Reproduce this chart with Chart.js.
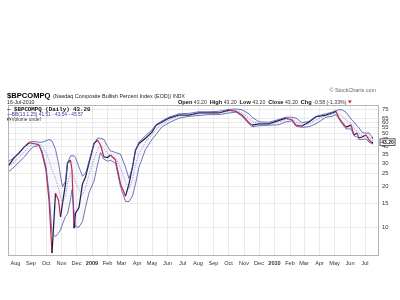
<!DOCTYPE html>
<html><head><meta charset="utf-8">
<script src="https://cdn.jsdelivr.net/npm/chart.js@4.4.0/dist/chart.umd.min.js"></script>
<style>html,body{margin:0;padding:0;background:#fff;}canvas{display:block;}</style>
</head><body>
<canvas id="c" width="400" height="300"></canvas>
<script>
// ---- data ----
const startDate = '2008-07-17';           // day 0 of the x axis
const days = [2,12,22,32,42,52,62,68,76,82,88,95,101,105,109,115,119,125,128,132,135,142,149,155,162,172,179,185,192,199,205,215,225,235,242,249,255,262,275,288,296,308,322,342,362,382,402,422,442,456,468,482,488,502,522,542,556,568,576,588,602,616,636,648,656,662,668,676,686,692,698,702,708,716,722,728,729];
const closeVals = [29,32.8,35.6,39.5,42.4,42,41,35.6,26.6,15.9,6.4,17.9,15.9,11.9,15,21,30,31.6,26.6,9.8,12.7,14,21,23.6,30,42,44.6,40.9,33.3,33,34.5,31.6,21,17,21,28,37.5,42,46,51,57.6,60.7,65,68.5,68.5,71,71,71,74.5,73,68.5,60,57.6,58.8,58.8,62.5,65,63,57.6,56.7,60.7,66.5,68.5,71,73,65,60.7,55.7,57.6,48.6,50.3,46.2,47,48.6,44.6,42.4,43.2];
const upperBand = [31,33,36,39.5,43,43.5,43,43,44,45,44,38,30,24,20,22,30,34,34,34,33,28,24,25,31,42,46,46,45,40,37,36,35,28,23,28,37.5,43,48,53,58,62,66,70,70.5,72.5,72.5,73,75.5,76,75,70,66,61,60.5,63.5,66,66,65,60,61.5,67,70,72,74,75,75,72,64,61,57,55,51,50,50.5,47,45.57];
const midBand = [28.5,30.5,33.2,36.2,40,41.8,41.8,40,36,31.5,26.5,23.2,19.5,16.8,15.2,17,21.2,25,26.5,23.5,21.5,19,17.5,19.5,24.5,32,37.5,41,38.5,35.5,34.2,33,27.5,21.8,19.2,22.5,29.2,35.5,43,49,53.5,59,63,67.5,68.8,70.2,70.8,71,73.2,74,71,64.5,61,59,59,60.8,63.5,64,60.8,57.8,58.8,63,68,69.5,71.5,69.5,67,63,59,54.5,52,50,48,47.8,46.8,44.5,43.54];
const lowerBand = [26,28,30.5,33,37,40,40.5,37,28,18,9,8.5,9,9.5,10.5,12,12.5,16,19,13,10,10,11,14,18,22,29,36,32,31,31.5,30,20,15.5,15.5,17,21,28,38,45,49,56,60,65,67,68,69,69,71,72,67,59,56,57,57.5,58,61,62,56.5,55.5,56,59,66,67,69,64,59,54,54,48,47,45,45,45.5,43,42,41.51];
const yTickValues = [10,15,20,25,30,35,40,45,50,55,60,65,75];
const monthTickDates = ['2008-08-01','2008-09-01','2008-10-01','2008-11-01','2008-12-01','2009-01-01','2009-02-01','2009-03-01','2009-04-01','2009-05-01','2009-06-01','2009-07-01','2009-08-01','2009-09-01','2009-10-01','2009-11-01','2009-12-01','2010-01-01','2010-02-01','2010-03-01','2010-04-01','2010-05-01','2010-06-01','2010-07-01'];
const monthTickLabels = ['Aug','Sep','Oct','Nov','Dec','2009','Feb','Mar','Apr','May','Jun','Jul','Aug','Sep','Oct','Nov','Dec','2010','Feb','Mar','Apr','May','Jun','Jul'];

// ---- build ----
const DAY = 86400000;
const t0 = Date.parse(startDate);
const monthTickDays = monthTickDates.map(d => (Date.parse(d) - t0) / DAY);
const pts = arr => days.map((d, i) => ({x: d, y: arr[i]}));
const FONT = 'Arial, "Liberation Sans", sans-serif';
const RED = '#cc2040', DARK = '#14143a', BAND = '#5050a8';

const deco = {
  id: 'deco',
  beforeDatasetsDraw(chart) {
    const ctx = chart.ctx, a = chart.chartArea;
    ctx.save();
    ctx.strokeStyle = '#b4b4b4'; ctx.lineWidth = 1;
    ctx.strokeRect(a.left + 0.5, a.top + 0.5, a.right - a.left - 1, a.bottom - a.top - 1);
    ctx.restore();
  },
  afterDraw(chart) {
    const ctx = chart.ctx, a = chart.chartArea;
    ctx.save();
    ctx.textBaseline = 'alphabetic';
    ctx.fillStyle = '#000';
    ctx.font = 'bold 7.6px ' + FONT;
    ctx.fillText('$BPCOMPQ', 7, 98);
    let x = 7 + ctx.measureText('$BPCOMPQ').width + 2.5;
    ctx.font = '5.4px ' + FONT;
    ctx.fillStyle = '#222';
    ctx.fillText('(Nasdaq Composite Bullish Percent Index (EOD))', x, 98);
    x += ctx.measureText('(Nasdaq Composite Bullish Percent Index (EOD)) ').width;
    ctx.font = '5px ' + FONT;
    ctx.fillText('INDX', x, 98);
    ctx.fillStyle = '#666';
    ctx.font = '5.4px ' + FONT;
    ctx.textAlign = 'right';
    ctx.fillText('\u00a9 StockCharts.com', 376, 92);
    ctx.textAlign = 'left';
    ctx.fillStyle = '#222';
    ctx.font = '5.2px ' + FONT;
    ctx.fillText('16-Jul-2010', 7, 103.5);
    const parts = [['Open ',1],['43.20  ',0],['High ',1],['43.20  ',0],['Low ',1],['43.20  ',0],['Close ',1],['43.20  ',0],['Chg ',1],['-0.58 (-1.33%) ',0]];
    x = 178;
    for (const [s, b] of parts) {
      ctx.font = (b ? 'bold 5.6px ' : '5.2px ') + FONT;
      ctx.fillStyle = b ? '#111' : '#333';
      ctx.fillText(s, x, 103.5);
      x += ctx.measureText(s).width;
    }
    ctx.fillStyle = RED;
    ctx.beginPath(); ctx.moveTo(x, 100.5); ctx.lineTo(x + 4, 100.5); ctx.lineTo(x + 2, 103.5); ctx.closePath(); ctx.fill();
    // legend inside plot
    ctx.fillStyle = '#111';
    ctx.font = 'bold 5.8px "Liberation Mono", "DejaVu Sans Mono", monospace';
    ctx.fillText('\u2014 $BPCOMPQ (Daily) 43.20', 7, 111);
    ctx.fillStyle = '#3838a0';
    ctx.font = '4.8px ' + FONT;
    ctx.fillText('\u2014BB(13,1.25) 41.51 - 43.54 - 45.57', 7, 116);
    ctx.fillStyle = '#666';
    ctx.fillRect(7, 118, 1, 2.5); ctx.fillRect(8.5, 117, 1, 3.5); ctx.fillRect(10, 118.5, 1, 2);
    ctx.fillStyle = '#444';
    ctx.fillText('Volume undef', 11.5, 120.8);
    // last value tag on the right axis
    const yv = chart.scales.y.getPixelForValue(closeVals[closeVals.length - 1]);
    ctx.fillStyle = '#fff';
    ctx.fillRect(a.right + 1, yv - 3, 15, 6.5);
    ctx.strokeStyle = '#333'; ctx.lineWidth = 0.8;
    ctx.strokeRect(a.right + 1, yv - 3, 15, 6.5);
    ctx.fillStyle = '#111';
    ctx.font = 'bold 5px ' + FONT;
    ctx.textAlign = 'center';
    ctx.fillText('43.20', a.right + 8.5, yv + 2);
    ctx.restore();
  }
};

new Chart(document.getElementById('c'), {
  type: 'line',
  data: {
    datasets: [
      {data: pts(lowerBand), borderColor: BAND, borderWidth: 0.8, pointRadius: 0, fill: false, tension: 0},
      {data: pts(upperBand), borderColor: BAND, borderWidth: 0.8, pointRadius: 0, fill: '-1', backgroundColor: 'rgba(140,140,215,0.07)', tension: 0},
      {data: pts(midBand), borderColor: '#6a6ab8', borderWidth: 0.8, borderDash: [1, 1.5], pointRadius: 0, fill: false, tension: 0},
      {data: pts(closeVals), borderColor: DARK, borderWidth: 1.2, pointRadius: 0, fill: false, tension: 0,
       segment: {borderColor: c => (c.p1.parsed.y < c.p0.parsed.y - 0.3 ? RED : DARK)}}
    ]
  },
  options: {
    responsive: false, animation: false, devicePixelRatio: 1,
    layout: {padding: {left: 8, top: 105, right: 0, bottom: 0}},
    plugins: {legend: {display: false}, tooltip: {enabled: false}},
    scales: {
      x: {
        type: 'linear', min: 0, max: 742, position: 'bottom',
        afterFit: s => { s.height = 44; },
        afterBuildTicks: s => { s.ticks = monthTickDays.map(v => ({value: v})); },
        grid: {color: '#e4e4e4', drawTicks: false, lineWidth: 0.8},
        border: {display: false},
        ticks: {
          autoSkip: false, maxRotation: 0, padding: 4, color: '#333',
          font: c => ({family: FONT, size: 5.6, weight: /^\d{4}$/.test(monthTickLabels[c.index] || '') ? 'bold' : 'normal'}),
          callback: (v, i) => monthTickLabels[i]
        }
      },
      y: {
        type: 'logarithmic', position: 'right', min: 6.08, max: 81.4,
        afterFit: s => { s.width = 21; },
        afterBuildTicks: s => { s.ticks = yTickValues.map(v => ({value: v})); },
        grid: {color: '#e4e4e4', drawTicks: false, lineWidth: 0.8},
        border: {display: false},
        ticks: {autoSkip: false, padding: 3, color: '#333', font: {family: FONT, size: 5.8}, callback: v => String(v)}
      }
    }
  },
  plugins: [deco]
});
</script>
</body></html>
